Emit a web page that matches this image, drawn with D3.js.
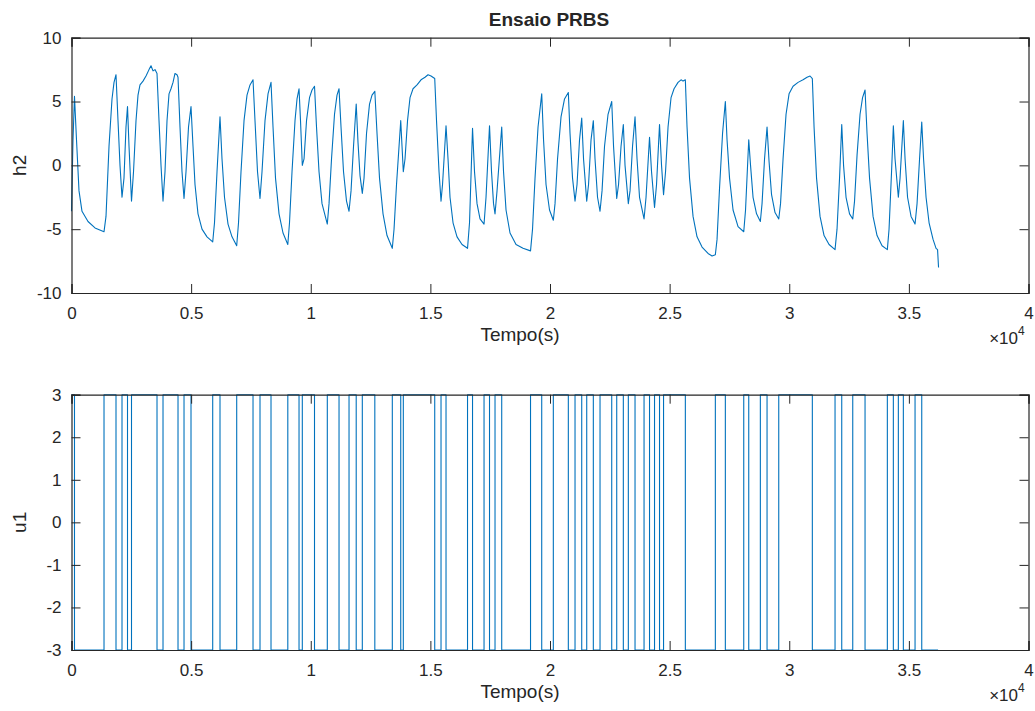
<!DOCTYPE html>
<html>
<head>
<meta charset="utf-8">
<script src="https://cdn.jsdelivr.net/npm/d3@7"></script>
<style>
  body { margin: 0; background: #fff; }
  text { font-family: "Liberation Sans", Arial, Helvetica, sans-serif; fill: #262626; }
</style>
</head>
<body>
<svg id="fig" width="1035" height="711"></svg>
<script>
// ---- data ----------------------------------------------------------
// u1: PRBS input; +3 inside each [start, end] interval (s), -3 elsewhere
const uHigh = 3, uLow = -3;
const uHighIntervals = [[0,125],[1359,1860],[2111,2341],[2508,3574],[3825,4452],[4703,4995],
  [5902,6207],[6905,7587],[7879,8339],[9041,9510],[9647,10157],[10692,11182],[11600,11900],
  [12155,12678],[13409,13761],[13869,15182],[15445,15654],[16553,16762],[17243,17472],
  [17702,17982],[19186,19654],[20139,20766],[21046,21326],[21535,21811],[22091,22580],
  [22789,23065],[23274,23554],[23931,24160],[24369,24578],[24746,25657],[26911,27329],
  [28098,28307],[28792,29072],[29561,30965],[31914,32194],[32654,33168],[34100,34351],
  [34560,34769],[35258,35538]];
const uEndTime = 36220;

// h2: measured level, [t (s), h2]
const h2Samples = [
  [0,-3.6],[63,2],[125,5.4],[209,2],[314,-2],[439,-3.6],[690,-4.4],[982,-4.9],[1359,-5.2],
  [1442,-4],[1568,1.5],[1693,5.2],[1777,6.5],[1860,7.1],[1944,3.5],[2027,0],[2111,-2.5],
  [2194,-1],[2278,3],[2341,4.6],[2404,1.5],[2508,-2.8],[2592,-0.5],[2696,3.5],[2780,5.5],
  [2863,6.3],[2989,6.6],[3114,7],[3240,7.5],[3323,7.8],[3407,7.4],[3490,7.5],[3574,7.2],
  [3658,3.5],[3741,0],[3825,-2.8],[3908,-0.5],[3992,3.5],[4076,5.6],[4159,6],[4243,6.5],
  [4326,7.2],[4410,7.1],[4452,6.9],[4535,3],[4619,-0.5],[4703,-2.6],[4786,-0.5],[4891,3],
  [4995,4.6],[5079,1.5],[5162,-1.5],[5288,-3.8],[5455,-5],[5664,-5.6],[5902,-6],
  [5977,-4.5],[6082,-0.5],[6207,3.8],[6291,0.5],[6395,-2.5],[6542,-4.6],[6709,-5.6],
  [6905,-6.3],[6981,-4.5],[7085,-0.5],[7211,3.5],[7336,5.5],[7461,6.3],[7587,6.7],
  [7670,3.5],[7775,-0.5],[7879,-2.6],[7963,-0.5],[8088,3.5],[8214,5.6],[8339,6.5],
  [8423,3],[8527,-1],[8674,-3.8],[8841,-5.3],[9041,-6.2],[9112,-4.5],[9217,-0.5],
  [9342,3.5],[9426,5.2],[9510,6],[9572,3.5],[9647,0],[9719,0.5],[9823,3.5],[9948,5.3],
  [10053,5.9],[10157,6.2],[10241,3],[10346,-0.5],[10471,-3],[10692,-4.6],[10764,-3],
  [10868,0.5],[10993,4],[11098,5.5],[11182,6],[11265,3],[11370,-0.5],[11495,-2.8],
  [11600,-3.6],[11684,-2],[11788,1.5],[11900,4.8],[11975,1.8],[12059,-0.8],[12155,-2.2],
  [12227,-1],[12331,2.5],[12456,4.8],[12561,5.5],[12678,5.8],[12770,2.5],[12874,-1],
  [13021,-3.8],[13188,-5.5],[13409,-6.5],[13481,-5],[13585,-1.5],[13761,3.5],[13815,1.5],
  [13869,-0.5],[13940,0.5],[14045,3.5],[14149,5.3],[14275,6],[14442,6.3],[14609,6.7],
  [14776,6.9],[14902,7.1],[15027,7],[15182,6.8],[15257,3.5],[15362,-0.5],[15445,-2.8],
  [15508,-1.5],[15654,3.1],[15738,0.5],[15821,-2.5],[15947,-4.5],[16114,-5.6],[16323,-6.2],
  [16553,-6.5],[16636,-4.5],[16762,2.9],[16845,-0.5],[16950,-3],[17075,-4.2],[17243,-4.6],
  [17326,-2.5],[17472,3.1],[17556,-0.5],[17640,-3],[17702,-3.8],[17786,-2],[17982,3],
  [18058,-0.5],[18162,-3.5],[18329,-5.3],[18580,-6.2],[18873,-6.5],[19186,-6.7],
  [19270,-5],[19374,-1],[19500,3],[19654,5.6],[19730,2],[19834,-1.5],[19980,-3.5],
  [20139,-4.3],[20210,-3],[20315,0.5],[20461,3.8],[20607,5.2],[20766,5.7],[20837,2.5],
  [20942,-1],[21046,-2.8],[21130,-1.5],[21234,2],[21326,3.7],[21402,0.5],[21535,-2.8],
  [21611,-1.5],[21715,2],[21811,3.5],[21882,0.5],[21987,-2.5],[22091,-3.6],[22175,-2],
  [22279,1.5],[22426,4],[22580,5],[22656,1.5],[22789,-2.6],[22865,-1.5],[22969,1.5],
  [23065,3.2],[23136,0],[23274,-3],[23345,-2],[23450,1.5],[23554,3.8],[23638,0.5],
  [23742,-2.5],[23931,-4.2],[24014,-2.5],[24160,2.2],[24244,-0.5],[24369,-3.3],
  [24453,-1.5],[24578,3.2],[24662,0],[24746,-2.3],[24829,-0.5],[24934,3],[25059,5.3],
  [25185,6],[25352,6.5],[25477,6.7],[25561,6.6],[25657,6.7],[25728,3],[25832,-1],
  [25979,-4],[26146,-5.6],[26355,-6.4],[26606,-6.9],[26773,-7.1],[26911,-7],[26982,-5.8],
  [27086,-1.8],[27212,2.5],[27329,5],[27400,2],[27504,-1],[27651,-3.5],[27860,-4.8],
  [28098,-5.2],[28173,-3.5],[28307,2],[28382,0],[28487,-2.5],[28633,-3.8],[28792,-4.4],
  [28863,-3],[28967,0.5],[29072,3],[29156,0.3],[29260,-2.3],[29406,-3.7],[29561,-4.2],
  [29636,-3],[29741,0.5],[29866,4],[29992,5.6],[30159,6.2],[30368,6.5],[30577,6.7],
  [30744,6.9],[30869,7],[30965,6.8],[31037,3],[31141,-1],[31287,-4],[31455,-5.5],
  [31664,-6.2],[31914,-6.6],[31997,-5],[32102,-1],[32194,3.2],[32270,0],[32374,-2.5],
  [32520,-3.8],[32654,-4.2],[32729,-2.8],[32834,0.8],[32959,4],[33064,5.3],[33168,5.9],
  [33252,2.5],[33356,-1],[33503,-4],[33670,-5.5],[33879,-6.3],[34100,-6.6],[34171,-5],
  [34276,-0.5],[34351,3.1],[34422,0.5],[34560,-2.5],[34631,-1],[34769,3.5],[34841,0.5],
  [34945,-2.5],[35091,-4],[35258,-4.6],[35342,-3],[35446,0.5],[35538,3.4],[35614,0.5],
  [35718,-2.5],[35844,-4.5],[36011,-5.8],[36136,-6.5],[36199,-6.6],[36240,-8]];

const xTicks = [0, 5000, 10000, 15000, 20000, 25000, 30000, 35000, 40000];
const h2Ticks = [-10, -5, 0, 5, 10];
const u1Ticks = [-3, -2, -1, 0, 1, 2, 3];

// ---- layout ----------------------------------------------------------
const svg = d3.select("#fig");
const plotLeft = 71.5, plotRight = 1028.5;
const lineColor = "#0072BD", axisColor = "#262626";
const tickFont = 17, labelFont = 19;

const x = d3.scaleLinear().domain([0, 40000]).range([plotLeft, plotRight]);

function drawPanel(cfg) {
  const y = d3.scaleLinear().domain(cfg.yDomain).range([cfg.bottom, cfg.top]);
  const g = svg.append("g");

  // data line
  g.append("path")
    .datum(cfg.points)
    .attr("fill", "none")
    .attr("stroke", lineColor)
    .attr("stroke-width", 1.1)
    .attr("stroke-linejoin", "round")
    .attr("d", d3.line().x(d => x(d[0])).y(d => y(d[1])).curve(cfg.curve));

  // axes with inward ticks, mirrored on top and right (box on)
  const tl = 9;
  const plain = d => String(d);
  const xb = d3.axisBottom(x).tickValues(xTicks).tickSize(-tl).tickPadding(14)
    .tickFormat(d => String(d / 10000));
  const xt = d3.axisTop(x).tickValues(xTicks).tickSize(-tl).tickFormat("");
  const yl = d3.axisLeft(y).tickValues(cfg.yTicks).tickSize(-tl).tickPadding(10)
    .tickFormat(plain);
  const yr = d3.axisRight(y).tickValues(cfg.yTicks).tickSize(-tl).tickFormat("");

  const axG = [
    g.append("g").attr("transform", `translate(0,${cfg.bottom})`).call(xb),
    g.append("g").attr("transform", `translate(0,${cfg.top})`).call(xt),
    g.append("g").attr("transform", `translate(${plotLeft},0)`).call(yl),
    g.append("g").attr("transform", `translate(${plotRight},0)`).call(yr)
  ];
  axG.forEach(a => {
    a.select(".domain").attr("stroke", axisColor).attr("stroke-width", 1.2);
    a.selectAll(".tick line").attr("stroke", axisColor).attr("stroke-width", 1);
    a.selectAll(".tick text").attr("font-size", tickFont).attr("fill", axisColor)
      .style("font-family", '"Liberation Sans", Arial, sans-serif');
  });
  axG[0].selectAll(".tick text").attr("dy", "0.71em");

  // axis labels
  g.append("text").attr("x", 520).attr("y", cfg.bottom + 48)
    .attr("text-anchor", "middle").attr("font-size", labelFont).text("Tempo(s)");
  g.append("text")
    .attr("transform", `translate(26,${(cfg.top + cfg.bottom) / 2}) rotate(-90)`)
    .attr("text-anchor", "middle").attr("font-size", labelFont).text(cfg.ylabel);

  // x10^4 exponent
  g.append("text").attr("x", 1018).attr("y", cfg.bottom + 51)
    .attr("text-anchor", "end").attr("font-size", tickFont).text("\u00d710");
  g.append("text").attr("x", 1018).attr("y", cfg.bottom + 42)
    .attr("font-size", 12).text("4");
}

// upper panel: h2
drawPanel({
  top: 37.7, bottom: 293, yDomain: [-10, 10], yTicks: h2Ticks, ylabel: "h2",
  points: h2Samples, curve: d3.curveLinear
});

// lower panel: u1 as a step signal built from the high intervals
const uPoints = [];
uHighIntervals.forEach(([a, b]) => {
  if (a > 0) uPoints.push([a, uLow]);
  uPoints.push([a, uHigh]);
  uPoints.push([b, uHigh]);
  uPoints.push([b, uLow]);
});
uPoints.push([uEndTime, uLow]);

drawPanel({
  top: 394.7, bottom: 650, yDomain: [-3, 3], yTicks: u1Ticks, ylabel: "u1",
  points: uPoints, curve: d3.curveLinear
});

// title
svg.append("text").attr("x", 549).attr("y", 26)
  .attr("text-anchor", "middle").attr("font-size", 19).attr("font-weight", "bold")
  .text("Ensaio PRBS");
</script>
</body>
</html>
